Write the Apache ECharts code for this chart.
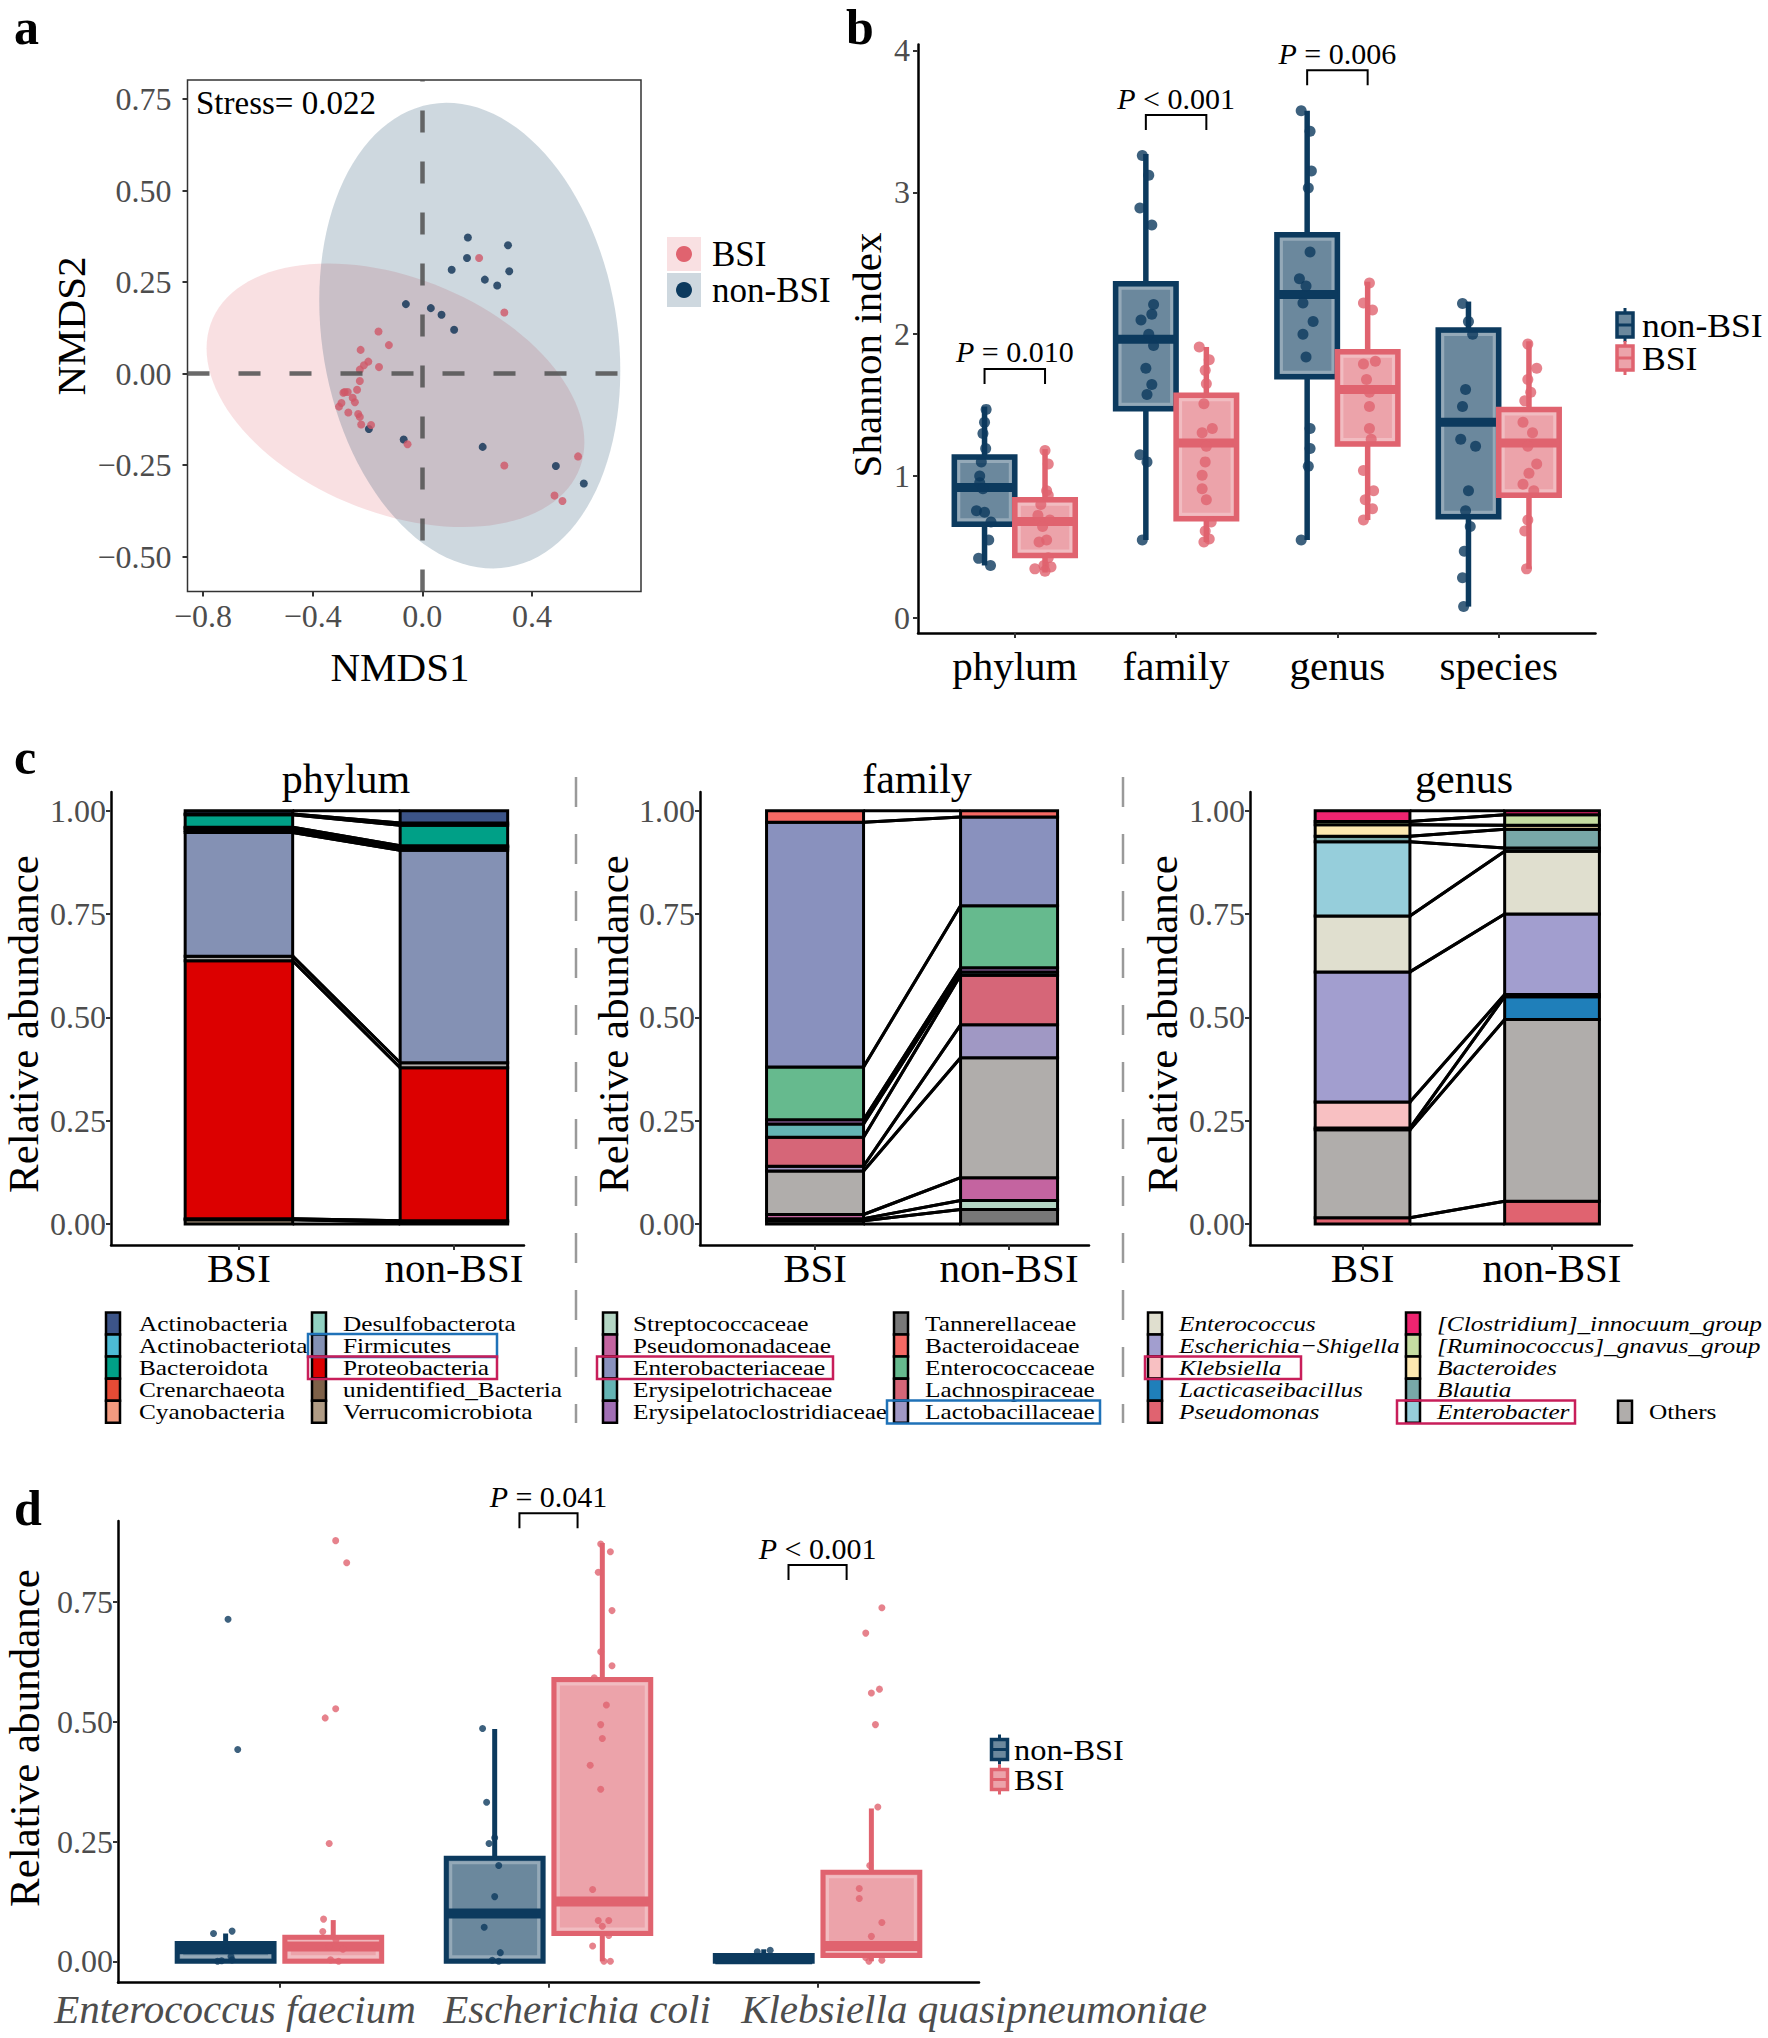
<!DOCTYPE html>
<html><head><meta charset="utf-8">
<script src="https://cdn.jsdelivr.net/npm/echarts@6/dist/echarts.min.js"></script>
<style>html,body{margin:0;padding:0;background:#fff}#chart{width:1768px;height:2038px}</style>
</head><body><div id="chart"></div>
<script>
// ================= DATA =================
// Panel a: NMDS ordination
const nmdsNonBSI = [[0.166,0.372],[0.3125,0.351],[0.163,0.316],[0.107,0.284],[0.317,0.280],[0.228,0.257],[0.273,0.241],[-0.060,0.190],[0.031,0.179],[0.070,0.161],[0.116,0.120],[-0.195,-0.151],[-0.068,-0.180],[0.220,-0.200],[0.487,-0.252],[0.589,-0.300]];
const nmdsBSI = [[0.207,0.316],[0.299,0.167],[-0.160,0.115],[-0.122,0.078],[-0.225,0.065],[-0.197,0.033],[-0.213,0.023],[-0.158,0.018],[-0.228,0.011],[-0.228,-0.020],[-0.238,-0.044],[-0.283,-0.050],[-0.272,-0.050],[-0.288,-0.052],[-0.254,-0.066],[-0.246,-0.078],[-0.295,-0.080],[-0.304,-0.090],[-0.270,-0.106],[-0.234,-0.110],[-0.228,-0.118],[-0.223,-0.139],[-0.187,-0.140],[-0.054,-0.193],[0.299,-0.251],[0.568,-0.226],[0.482,-0.333],[0.511,-0.348]];
// ellipse: [centerX, centerY, radiusX, radiusY, correlation]
const ellipseBSI = [-0.098, -0.059, 0.689, 0.360, -0.356];
const ellipseNonBSI = [0.173, 0.104, 0.549, 0.636, -0.151];
const nmdsXTicks = [-0.8, -0.4, 0, 0.4];
const nmdsYTicks = [-0.5, -0.25, 0, 0.25, 0.5, 0.75];
const stressLabel = 'Stress= 0.022';

// Panel b: Shannon index  (box: min, q1, median, q3, max)
const levels = ['phylum', 'family', 'genus', 'species'];
const shannonTicks = [0, 1, 2, 3, 4];
const shannonBoxNonBSI = [[0.37,0.66,0.92,1.135,1.49],[0.55,1.475,1.965,2.355,3.27],[0.55,1.70,2.28,2.70,3.575],[0.08,0.714,1.38,2.03,2.23]];
const shannonBoxBSI = [[0.32,0.44,0.68,0.833,1.19],[0.535,0.70,1.233,1.57,1.91],[0.69,1.226,1.61,1.877,2.37],[0.346,0.865,1.233,1.47,1.95]];
// points: [value, horizontal jitter]
const shannonPtsNonBSI = [
  [[1.47,.01],[1.38,0],[1.30,-.01],[1.195,.007],[1.10,-.02],[1.0,-.03],[0.953,-.03],[0.91,-.01],[0.755,-.05],[0.745,0],[0.676,.04],[0.55,.026],[0.42,-.037],[0.37,.037]],
  [[3.26,-.022],[3.12,.018],[2.89,-.037],[2.77,.037],[2.21,.048],[2.14,.037],[2.10,-.03],[2.0,.018],[1.92,.048],[1.76,0],[1.645,.037],[1.575,.007],[1.15,-.037],[1.10,.007],[0.55,-.022]],
  [[3.575,-.037],[3.43,.018],[3.15,.026],[3.03,.007],[2.58,.018],[2.39,-.048],[2.34,-.007],[2.22,-.026],[2.09,.037],[2.0,-.026],[1.84,-.007],[1.336,.018],[1.195,.018],[1.07,.007],[0.55,-.037]],
  [[2.217,-.037],[2.09,0],[2.0,.026],[1.61,-.018],[1.49,-.037],[1.26,-.048],[1.21,.044],[0.896,0],[0.755,-.018],[0.645,.011],[0.47,-.026],[0.283,-.037],[0.08,-.03]]
];
const shannonPtsBSI = [
  [[1.18,0],[1.085,.02],[0.896,.01],[0.865,.02],[0.80,-.026],[0.723,-.044],[0.69,.03],[0.645,-.015],[0.55,.01],[0.535,-.037],[0.425,.02],[0.37,-.007],[0.346,-.063],[0.36,.037],[0.33,0]],
  [[1.91,-.044],[1.82,.018],[1.745,-.007],[1.65,0],[1.51,-.015],[1.336,.037],[1.305,-.026],[1.21,0],[1.10,-.007],[1.006,-.026],[0.91,-.026],[0.833,0],[0.676,.03],[0.613,-.007],[0.557,.018],[0.535,-.015]],
  [[2.36,.011],[2.22,-.026],[2.17,.03],[1.79,-.026],[1.81,.048],[1.68,-.007],[1.59,.011],[1.49,.011],[1.336,.011],[1.26,.022],[1.04,-.026],[0.896,.037],[0.833,-.015],[0.77,.03],[0.69,-.026]],
  [[1.93,-.007],[1.76,.048],[1.68,-.007],[1.59,.011],[1.53,-.026],[1.38,-.037],[1.305,.022],[1.21,-.007],[1.085,.048],[1.02,0],[0.943,-.037],[0.896,.03],[0.69,-.007],[0.613,-.026],[0.346,-.015]]
];
const pCatsB = [0, 1, 2];
const pYB = [1.755, 3.544, 3.86];
const pTextB = ['= 0.010', '< 0.001', '= 0.006'];

// Panel c: relative abundance (stack order top -> bottom)
const groups = ['BSI', 'non-BSI'];
const abundTicks = [0, 0.25, 0.5, 0.75, 1];
const phylumNames = ['Actinobacteria','Actinobacteriota','Bacteroidota','Crenarchaeota','Cyanobacteria','Desulfobacterota','Firmicutes','Others','Proteobacteria','unidentified_Bacteria','Verrucomicrobiota'];
const phylumBSI    = [0.008,0.002,0.030,0.002,0.006,0.005,0.299,0.011,0.624,0.003,0.010];
const phylumNonBSI = [0.030,0.005,0.050,0.002,0.003,0.006,0.514,0.012,0.370,0.003,0.005];
const familyNames = ['Bacteroidaceae','Enterobacteriaceae','Enterococcaceae','Erysipelatoclostridiaceae','Erysipelotrichaceae','Lachnospiraceae','Lactobacillaceae','Others','Pseudomonadaceae','Streptococcaceae','Tannerellaceae'];
const familyBSI    = [0.028,0.592,0.128,0.010,0.032,0.070,0.012,0.105,0.010,0.005,0.008];
const familyNonBSI = [0.015,0.215,0.150,0.010,0.008,0.120,0.080,0.290,0.055,0.022,0.035];
const genusNames = ['[Clostridium]_innocuum_group','[Ruminococcus]_gnavus_group','Bacteroides','Blautia','Enterobacter','Enterococcus','Escherichia\u2212Shigella','Klebsiella','Lacticaseibacillus','Others','Pseudomonas'];
const genusBSI    = [0.026,0.008,0.028,0.013,0.180,0.135,0.315,0.063,0.004,0.213,0.015];
const genusNonBSI = [0.010,0.025,0.010,0.045,0.008,0.152,0.195,0.005,0.055,0.440,0.055];
const phylumLegend = [['Actinobacteria','Actinobacteriota','Bacteroidota','Crenarchaeota','Cyanobacteria'],['Desulfobacterota','Firmicutes','Proteobacteria','unidentified_Bacteria','Verrucomicrobiota']];
const familyLegend = [['Streptococcaceae','Pseudomonadaceae','Enterobacteriaceae','Erysipelotrichaceae','Erysipelatoclostridiaceae'],['Tannerellaceae','Bacteroidaceae','Enterococcaceae','Lachnospiraceae','Lactobacillaceae']];
const genusLegend = [['Enterococcus','Escherichia\u2212Shigella','Klebsiella','Lacticaseibacillus','Pseudomonas'],['[Clostridium]_innocuum_group','[Ruminococcus]_gnavus_group','Bacteroides','Blautia','Enterobacter'],[null,null,null,null,'Others']];

// Panel d: species relative abundance
const speciesD = ['Enterococcus faecium', 'Escherichia coli', 'Klebsiella quasipneumoniae'];
const dTicks = [0, 0.25, 0.5, 0.75];
const dBoxNonBSI = [[0,0,0.025,0.037,0.058],[0,0,0.10,0.215,0.485],[0,0,0.004,0.012,0.025]];
const dBoxBSI = [[0,0,0.031,0.05,0.086],[0,0.058,0.125,0.588,0.873],[0,0.012,0.032,0.186,0.319]];
const dPtsNonBSI = [
  [[0.714,.009],[0.442,.045],[0.063,.024],[0.058,-.045],[0.023,0],[0.01,.02],[0.003,.024],[0.001,-.015],[0.0,-.03]],
  [[0.486,-.045],[0.332,-.03],[0.258,0],[0.246,-.021],[0.2,.015],[0.135,0],[0.071,-.039],[0.018,.021],[0.002,-.009],[0.0,.015]],
  [[0.023,.024],[0.02,-.024],[0.012,0],[0.004,-.045],[0.004,.045]]
];
const dPtsBSI = [
  [[0.878,.009],[0.832,.05],[0.527,.009],[0.508,-.03],[0.246,-.015],[0.088,-.036],[0.062,-.039],[0.045,.01],[0.031,-.015],[0.025,.036],[0.003,-.01],[0.0,.02]],
  [[0.871,-.006],[0.855,.03],[0.812,-.015],[0.732,.036],[0.646,-.006],[0.617,.036],[0.592,-.03],[0.535,.015],[0.494,-.006],[0.465,0],[0.409,-.045],[0.359,-.006],[0.15,-.036],[0.085,-.015],[0.085,.024],[0.073,0],[0.054,.024],[0.032,-.036],[0.0,.006],[0.0,.03]],
  [[0.738,.039],[0.685,-.021],[0.568,.03],[0.56,0],[0.494,.015],[0.322,.024],[0.2,-.006],[0.152,-.045],[0.131,-.045],[0.081,.039],[0.052,0],[0.008,-.021],[0.002,.039],[0.0,-.009]]
];
const pCatsD = [1, 2];
const pYD = [0.935, 0.827];
const pTextD = ['= 0.041', '< 0.001'];

// ================= STYLE =================
const FONT = 'Liberation Serif';
const NAVY = '#0c3a5e', PINK = '#e0636f';
const NAVY_FILL = '#6b889d', PINK_FILL = '#eca3aa';
const phylumColors = {Actinobacteria:'#3C5488',Actinobacteriota:'#4DBBD5',Bacteroidota:'#00A087',Crenarchaeota:'#E64B35',Cyanobacteria:'#F39B7F',Desulfobacterota:'#91D1C2',Firmicutes:'#8491B4',Others:'#b0adab',Proteobacteria:'#DC0000',unidentified_Bacteria:'#7E6148',Verrucomicrobiota:'#B09C85'};
const familyColors = {Bacteroidaceae:'#f56964',Enterobacteriaceae:'#8991be',Enterococcaceae:'#66ba8e',Erysipelatoclostridiaceae:'#a06eb4',Erysipelotrichaceae:'#64b4b4',Lachnospiraceae:'#d66678',Lactobacillaceae:'#a098c4',Others:'#b0adab',Pseudomonadaceae:'#c464a0',Streptococcaceae:'#b4d6c4',Tannerellaceae:'#787878'};
const genusColors = {'[Clostridium]_innocuum_group':'#ee2470','[Ruminococcus]_gnavus_group':'#c6dda2',Bacteroides:'#fde8b0',Blautia:'#78a8a8',Enterobacter:'#96cedb',Enterococcus:'#e0dfcf','Escherichia\u2212Shigella':'#a29ecf',Klebsiella:'#f8c0c2',Lacticaseibacillus:'#1f7fba',Others:'#b0adab',Pseudomonas:'#e06370'};

const signed = (v, d) => (v < 0 ? '\u2212' : '') + Math.abs(v).toFixed(d);

function axis(gridIndex, min, max, ticks, formatter, o) {
  o = o || {};
  return {
    gridIndex, type: 'value', min, max,
    axisLine: {show: o.line !== false, onZero: false, lineStyle: {color: '#000', width: 2.5}},
    axisTick: {show: true, customValues: ticks, length: 5, lineStyle: {color: '#333', width: 2}},
    axisLabel: {show: o.labels !== false, customValues: ticks, hideOverlap: false, formatter: v => { const r = formatter(v); return r == null ? '' : r; }, fontFamily: FONT, fontSize: o.fs || 32,
      color: o.color || '#4d4d4d', margin: o.margin == null ? 6 : o.margin, fontStyle: o.italic ? 'italic' : 'normal'},
    splitLine: {show: false}, splitArea: {show: false}
  };
}

// ---- render helpers ----
function ellipseRender(e) {
  return (params, api) => {
    const pts = [];
    const k = Math.sqrt(1 - e[4] * e[4]);
    for (let i = 0; i <= 120; i++) {
      const t = i / 120 * Math.PI * 2;
      pts.push(api.coord([e[0] + e[2] * Math.cos(t), e[1] + e[3] * (e[4] * Math.cos(t) + k * Math.sin(t))]));
    }
    return {type: 'polygon', shape: {points: pts}, style: {fill: params.seriesName === 'BSI' ? 'rgba(224,99,111,0.2)' : 'rgba(12,58,94,0.2)', stroke: 'none'}};
  };
}
function boxRender(color, fill, offset, width, lw, mlw) {
  return (params, api) => {
    const x = api.value(0) + offset;
    const mn = api.value(1), q1 = api.value(2), md = api.value(3), q3 = api.value(4), mx = api.value(5);
    const tl = api.coord([x - width / 2, q3]), br = api.coord([x + width / 2, q1]);
    const top = api.coord([x, mx]), bot = api.coord([x, mn]);
    const ym = api.coord([x, md])[1];
    const ch = [
      {type: 'line', shape: {x1: top[0], y1: top[1], x2: top[0], y2: tl[1]}, style: {stroke: color, lineWidth: lw}},
      {type: 'line', shape: {x1: bot[0], y1: br[1], x2: bot[0], y2: bot[1]}, style: {stroke: color, lineWidth: lw}},
      {type: 'rect', shape: {x: tl[0], y: tl[1], width: br[0] - tl[0], height: br[1] - tl[1]}, style: {fill, stroke: color, lineWidth: lw}}
    ];
    if (br[1] - tl[1] > 14) ch.push({type: 'rect', shape: {x: tl[0] + 4.5, y: tl[1] + 4.5, width: br[0] - tl[0] - 9, height: br[1] - tl[1] - 9}, style: {fill: 'none', stroke: 'rgba(255,255,255,0.28)', lineWidth: 3}});
    ch.push({type: 'line', shape: {x1: tl[0], y1: ym, x2: br[0], y2: ym}, style: {stroke: color, lineWidth: mlw}});
    return {type: 'group', children: ch};
  };
}
function pRender(half, texts) {
  return (params, api) => {
    const c = api.value(0), y = api.value(1);
    const L = api.coord([c - half, y]), R = api.coord([c + half, y]);
    return {type: 'group', children: [
      {type: 'polyline', shape: {points: [[L[0], L[1] + 15], [L[0], L[1]], [R[0], R[1]], [R[0], R[1] + 15]]}, style: {stroke: '#000', lineWidth: 2, fill: 'none'}},
      {type: 'text', x: (L[0] + R[0]) / 2, y: L[1] - 17, style: {text: '{i|P} ' + texts[params.dataIndex], rich: {i: {fontStyle: 'italic', fontFamily: FONT, fontSize: 30, fill: '#000'}},
        fontFamily: FONT, fontSize: 30, fill: '#000', align: 'center', verticalAlign: 'middle', textAlign: 'center', textVerticalAlign: 'middle'}}
    ]};
  };
}
function stackData(names, vb, vn) {
  const rows = [], cum = [[], []];
  [vb, vn].forEach((vals, g) => {
    let acc = 0;
    for (let i = names.length - 1; i >= 0; i--) {
      cum[g][i] = [acc, acc + vals[i]];
      rows.push([g + 1, acc, acc + vals[i], i]);
      acc += vals[i];
    }
  });
  const flows = names.map((n, i) => [cum[0][i][0], cum[0][i][1], cum[1][i][0], cum[1][i][1]]);
  return {rows, flows};
}
function barRender(names, colors) {
  return (params, api) => {
    const x = api.value(0);
    const p1 = api.coord([x - 0.25, api.value(2)]), p2 = api.coord([x + 0.25, api.value(1)]);
    return {type: 'rect', shape: {x: p1[0], y: p1[1], width: p2[0] - p1[0], height: p2[1] - p1[1]}, style: {fill: colors[names[api.value(3)]], stroke: '#000', lineWidth: 3}};
  };
}
function flowRender(params, api) {
  const a = api.coord([1.25, api.value(1)]), b = api.coord([1.75, api.value(3)]);
  const c = api.coord([1.25, api.value(0)]), d = api.coord([1.75, api.value(2)]);
  return {type: 'group', children: [
    {type: 'line', shape: {x1: a[0], y1: a[1], x2: b[0], y2: b[1]}, style: {stroke: '#000', lineWidth: 3}},
    {type: 'line', shape: {x1: c[0], y1: c[1], x2: d[0], y2: d[1]}, style: {stroke: '#000', lineWidth: 3}}
  ]};
}
function jitter(pts, offset) {
  const out = [];
  pts.forEach((grp, ci) => grp.forEach(p => out.push([ci + 1 + offset + p[1], p[0]])));
  return out;
}
const boxRows = b => b.map((r, i) => [i + 1].concat(r));

// ================= OPTION =================
const stP = stackData(phylumNames, phylumBSI, phylumNonBSI);
const stF = stackData(familyNames, familyBSI, familyNonBSI);
const stG = stackData(genusNames, genusBSI, genusNonBSI);

const gridBase = {containLabel: false, outerBoundsMode: 'none'};
const grids = [
  Object.assign({left: 187.5, top: 80, width: 453.5, height: 511.5, show: true, borderColor: '#333', borderWidth: 1.5, backgroundColor: 'transparent'}, gridBase),
  Object.assign({left: 918, top: 44.6, width: 677.5, height: 588.4}, gridBase),
  Object.assign({left: 111, top: 792, width: 413, height: 453}, gridBase),
  Object.assign({left: 700, top: 792, width: 389, height: 453}, gridBase),
  Object.assign({left: 1250, top: 792, width: 382, height: 453}, gridBase),
  Object.assign({left: 118, top: 1521, width: 861, height: 461.7}, gridBase)
];
const grpFmt = v => groups[Math.round(v) - 1];
const xAxes = [
  axis(0, -0.8565, 0.7975, nmdsXTicks, v => signed(v, 1), {line: false, margin: 8}),
  axis(1, 0.4, 4.6, [1, 2, 3, 4], v => levels[Math.round(v) - 1], {color: '#000', fs: 41, margin: 12}),
  axis(2, 0.405, 2.326, [1, 2], grpFmt, {color: '#000', fs: 41, margin: 2}),
  axis(3, 0.407, 2.412, [1, 2], grpFmt, {color: '#000', fs: 41, margin: 2}),
  axis(4, 0.406, 2.422, [1, 2], grpFmt, {color: '#000', fs: 41, margin: 2}),
  // species names in panel d are set as free text below (they are shifted off their ticks in the reference)
  axis(5, 0.4, 3.6, [1, 2, 3], v => '', {labels: false})
];
const abFmt = v => v.toFixed(2);
const yAxes = [
  axis(0, -0.595, 0.8022, nmdsYTicks, v => signed(v, 2), {line: false, margin: 16}),
  axis(1, -0.106, 4.041, shannonTicks, v => String(v), {margin: 8}),
  axis(2, -0.0508, 1.0452, abundTicks, abFmt, {margin: 5}),
  axis(3, -0.0508, 1.0452, abundTicks, abFmt, {margin: 5}),
  axis(4, -0.0508, 1.0452, abundTicks, abFmt, {margin: 5}),
  axis(5, -0.0447, 0.919, dTicks, abFmt, {margin: 5})
];

const series = [
  // ---- a ----
  {type: 'custom', name: 'BSI', xAxisIndex: 0, yAxisIndex: 0, data: [[ellipseBSI[0], ellipseBSI[1]]], renderItem: ellipseRender(ellipseBSI), silent: true},
  {type: 'custom', name: 'non-BSI', xAxisIndex: 0, yAxisIndex: 0, data: [[ellipseNonBSI[0], ellipseNonBSI[1]]], renderItem: ellipseRender(ellipseNonBSI), silent: true,
    markLine: {silent: true, symbol: 'none', label: {show: false}, lineStyle: {color: 'rgba(80,80,80,0.85)', width: 4.5, type: [22, 29]}, data: [{xAxis: 0}, {yAxis: 0}]}},
  {type: 'scatter', xAxisIndex: 0, yAxisIndex: 0, data: nmdsNonBSI, symbolSize: 8, itemStyle: {color: '#0c2f52'}, silent: true},
  {type: 'scatter', xAxisIndex: 0, yAxisIndex: 0, data: nmdsBSI, symbolSize: 8, itemStyle: {color: '#cf5868'}, silent: true},
  // ---- b ----
  {type: 'custom', xAxisIndex: 1, yAxisIndex: 1, data: boxRows(shannonBoxNonBSI), renderItem: boxRender(NAVY, NAVY_FILL, -0.1875, 0.375, 5.5, 9), silent: true},
  {type: 'custom', xAxisIndex: 1, yAxisIndex: 1, data: boxRows(shannonBoxBSI), renderItem: boxRender(PINK, PINK_FILL, 0.1875, 0.375, 5.5, 9), silent: true},
  {type: 'scatter', xAxisIndex: 1, yAxisIndex: 1, data: jitter(shannonPtsNonBSI, -0.1875), symbolSize: 11, itemStyle: {color: NAVY}, silent: true},
  {type: 'scatter', xAxisIndex: 1, yAxisIndex: 1, data: jitter(shannonPtsBSI, 0.1875), symbolSize: 11, itemStyle: {color: PINK}, silent: true},
  {type: 'custom', xAxisIndex: 1, yAxisIndex: 1, data: pCatsB.map((c, i) => [c + 1, pYB[i]]), renderItem: pRender(0.1875, pTextB), clip: false, silent: true},
  // ---- c ----
  {type: 'custom', xAxisIndex: 2, yAxisIndex: 2, data: stP.flows, renderItem: flowRender, silent: true},
  {type: 'custom', xAxisIndex: 2, yAxisIndex: 2, data: stP.rows, renderItem: barRender(phylumNames, phylumColors), silent: true},
  {type: 'custom', xAxisIndex: 3, yAxisIndex: 3, data: stF.flows, renderItem: flowRender, silent: true},
  {type: 'custom', xAxisIndex: 3, yAxisIndex: 3, data: stF.rows, renderItem: barRender(familyNames, familyColors), silent: true},
  {type: 'custom', xAxisIndex: 4, yAxisIndex: 4, data: stG.flows, renderItem: flowRender, silent: true},
  {type: 'custom', xAxisIndex: 4, yAxisIndex: 4, data: stG.rows, renderItem: barRender(genusNames, genusColors), silent: true},
  // ---- d ----
  {type: 'custom', xAxisIndex: 5, yAxisIndex: 5, data: boxRows(dBoxNonBSI), renderItem: boxRender(NAVY, NAVY_FILL, -0.2, 0.36, 5, 10), silent: true},
  {type: 'custom', xAxisIndex: 5, yAxisIndex: 5, data: boxRows(dBoxBSI), renderItem: boxRender(PINK, PINK_FILL, 0.2, 0.36, 5, 10), silent: true},
  {type: 'scatter', xAxisIndex: 5, yAxisIndex: 5, data: jitter(dPtsNonBSI, -0.2), symbolSize: 7, itemStyle: {color: NAVY}, silent: true},
  {type: 'scatter', xAxisIndex: 5, yAxisIndex: 5, data: jitter(dPtsBSI, 0.2), symbolSize: 7, itemStyle: {color: PINK}, silent: true},
  {type: 'custom', xAxisIndex: 5, yAxisIndex: 5, data: pCatsD.map((c, i) => [c + 1, pYD[i]]), renderItem: pRender(0.108, pTextD), clip: false, silent: true}
];

// ================= GRAPHIC (titles, legends, decorations) =================
const G = [];
function txt(text, x, y, size, o) {
  o = o || {};
  G.push({type: 'text', x, y, rotation: o.rot || 0, scaleX: o.sx || 1, silent: true, z: 10,
    style: {text, fontFamily: FONT, fontSize: size, fontWeight: o.bold ? 'bold' : 'normal', fontStyle: o.italic ? 'italic' : 'normal',
      fill: o.color || '#000', align: o.align || 'center', verticalAlign: 'middle', textAlign: o.align || 'center', textVerticalAlign: 'middle'}});
}
function rect(x, y, w, h, style) { G.push({type: 'rect', silent: true, z: 10, shape: {x, y, width: w, height: h}, style}); }
// panel letters
txt('a', 14, 27, 50, {bold: true, align: 'left'});
txt('b', 846, 27, 50, {bold: true, align: 'left'});
txt('c', 14, 757, 50, {bold: true, align: 'left'});
txt('d', 14, 1508, 50, {bold: true, align: 'left'});
// axis titles
txt(stressLabel, 196, 103, 33, {align: 'left'});
txt('NMDS1', 400, 667, 41);
txt('NMDS2', 71, 326, 41, {rot: Math.PI / 2});
txt('Shannon index', 867, 355, 41, {rot: Math.PI / 2});
txt('phylum', 346, 779, 42);
txt('family', 917, 779, 42);
txt('genus', 1464, 779, 42);
txt('Relative abundance', 23, 1024, 43, {rot: Math.PI / 2});
txt('Relative abundance', 613, 1024, 43, {rot: Math.PI / 2});
txt('Relative abundance', 1162, 1024, 43, {rot: Math.PI / 2});
txt('Relative abundance', 24, 1738, 43, {rot: Math.PI / 2});
// panel d species labels (as placed in the reference)
txt(speciesD[0], 235, 2009, 41, {italic: true, color: '#4d4d4d'});
txt(speciesD[1], 577, 2009, 41, {italic: true, color: '#4d4d4d'});
txt(speciesD[2], 974, 2009, 41, {italic: true, color: '#4d4d4d'});
// legend a
rect(667, 237, 34, 34, {fill: 'rgba(224,99,111,0.2)'});
rect(667, 273, 34, 34, {fill: 'rgba(12,58,94,0.2)'});
G.push({type: 'circle', silent: true, z: 11, shape: {cx: 684, cy: 254, r: 8}, style: {fill: PINK}});
G.push({type: 'circle', silent: true, z: 11, shape: {cx: 684, cy: 290, r: 8}, style: {fill: NAVY}});
txt(groups[0], 712, 254, 35, {align: 'left'});
txt(groups[1], 712, 290, 35, {align: 'left'});
// legend b & d (boxplot glyphs)
function boxKey(cx, cy, h, color, fill) {
  G.push({type: 'line', silent: true, z: 10, shape: {x1: cx, y1: cy - h / 2 - 5, x2: cx, y2: cy + h / 2 + 5}, style: {stroke: color, lineWidth: 3}});
  rect(cx - 8, cy - h / 2, 16, h, {fill, stroke: color, lineWidth: 3.5});
  G.push({type: 'line', silent: true, z: 11, shape: {x1: cx - 8, y1: cy, x2: cx + 8, y2: cy}, style: {stroke: color, lineWidth: 3}});
}
boxKey(1625, 325, 24, NAVY, NAVY_FILL);
boxKey(1625, 358, 24, PINK, PINK_FILL);
txt(groups[1], 1642, 325, 33, {align: 'left', sx: 1.08});
txt(groups[0], 1642, 358, 33, {align: 'left', sx: 1.08});
boxKey(999.5, 1749.5, 20, NAVY, NAVY_FILL);
boxKey(999.5, 1779.5, 20, PINK, PINK_FILL);
txt(groups[1], 1014, 1749.5, 30, {align: 'left', sx: 1.08});
txt(groups[0], 1014, 1779.5, 30, {align: 'left', sx: 1.08});
// legends c
const rowsY = [1323.4, 1345.5, 1367.6, 1389.7, 1411.8];
function colLegend(names, colors, keyX, textX, italic) {
  names.forEach((n, r) => {
    if (!n) return;
    rect(keyX, rowsY[r] - 11, 14, 22, {fill: colors[n], stroke: '#000', lineWidth: 2.5});
    txt(n, textX, rowsY[r], 22, {align: 'left', italic: italic && n !== 'Others', sx: 1.15});
  });
}
colLegend(phylumLegend[0], phylumColors, 106, 139, false);
colLegend(phylumLegend[1], phylumColors, 312, 343, false);
colLegend(familyLegend[0], familyColors, 603, 633, false);
colLegend(familyLegend[1], familyColors, 894, 925, false);
colLegend(genusLegend[0], genusColors, 1148, 1179, true);
colLegend(genusLegend[1], genusColors, 1406, 1437, true);
colLegend(genusLegend[2], genusColors, 1618, 1649, true);
// highlight boxes
const BLUE_HL = '#1f72b8', RED_HL = '#c81e5a';
rect(308, 1334, 189, 23, {fill: 'none', stroke: BLUE_HL, lineWidth: 2.5});
rect(308, 1356.5, 189, 22.5, {fill: 'none', stroke: RED_HL, lineWidth: 2.5});
rect(597, 1356.5, 236, 22.5, {fill: 'none', stroke: RED_HL, lineWidth: 2.5});
rect(887, 1400.5, 213, 23, {fill: 'none', stroke: BLUE_HL, lineWidth: 2.5});
rect(1145, 1356.5, 156, 22.5, {fill: 'none', stroke: RED_HL, lineWidth: 2.5});
rect(1397, 1400.5, 178, 23, {fill: 'none', stroke: RED_HL, lineWidth: 2.5});
// dashed separators
[576, 1123].forEach(x => G.push({type: 'line', silent: true, z: 1, shape: {x1: x, y1: 777, x2: x, y2: 1423}, style: {stroke: '#9a9a9a', lineWidth: 2.5, lineDash: [30, 27]}}));

const option = {
  animation: false,
  backgroundColor: '#ffffff',
  textStyle: {fontFamily: FONT},
  grid: grids,
  xAxis: xAxes,
  yAxis: yAxes,
  series,
  graphic: {elements: G}
};
const chart = echarts.init(document.getElementById('chart'), null, {renderer: 'svg', width: 1768, height: 2038});
chart.setOption(option);
</script>
</body></html>
